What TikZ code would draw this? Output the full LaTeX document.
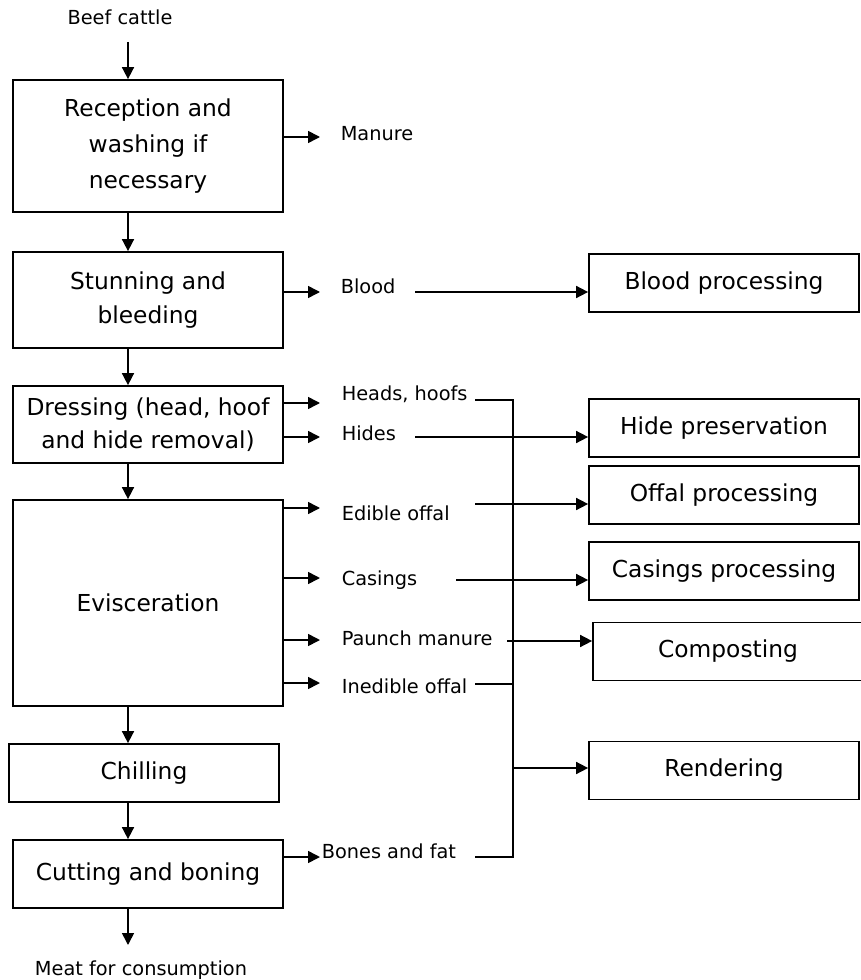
\documentclass[tikz,border=0pt]{standalone}
\usepackage{fontspec}
\setmainfont{DejaVu Sans}
\usepackage{tikz}
\usetikzlibrary{arrows.meta}
\tikzset{proc/.style={rectangle,draw,line width=1.3pt,align=center,inner sep=0pt,minimum width=202.5pt,font=\fontsize{17.5}{25}\selectfont}}
\tikzset{side/.style={proc,minimum height=43.5pt}}
\tikzset{lbl/.style={anchor=base west,inner sep=0pt,font=\fontsize{14.5}{17}\selectfont}}

\begin{document}
\begin{tikzpicture}[x=0.75pt,y=-0.75pt,>={Triangle[length=9pt,width=9pt]},line width=1.2pt]
        \useasboundingbox (0,0) rectangle (860,980);

        % main line
        \node[proc,minimum height=99pt,font=\fontsize{17.5}{27}\selectfont] (rec) at (148,146) {Reception and\\washing if\\necessary};
        \node[proc,minimum height=72pt] (stun) at (148,300) {Stunning and\\bleeding};
        \node[proc,minimum height=57.75pt] (dress) at (148,424.5) {Dressing (head, hoof\\and hide removal)};
        \node[proc,minimum height=154.5pt] (evis) at (148,603) {Evisceration};
        \node[proc,minimum height=43.5pt] (chill) at (144,773) {Chilling};
        \node[proc,minimum height=51pt] (cut) at (148,874) {Cutting and boning};

        % by-product processing
        \node[side] (bproc) at (724,283) {Blood processing};
        \node[side] (hide) at (724,428) {Hide preservation};
        \node[side] (offal) at (724,495) {Offal processing};
        \node[side] (casing) at (724,571) {Casings processing};
        \node[side] (comp) at (728,651.5) {Composting};
        \node[side] (rend) at (724,770.5) {Rendering};

        % flow labels
        \node[lbl,anchor=base] (beef) at (120,25) {Beef cattle};
        \node[lbl,anchor=base] (meat) at (141,975) {Meat for consumption};
        \node[lbl] (manure) at (340,141) {Manure};
        \node[lbl] (blood) at (340,293) {Blood};
        \node[lbl] (heads) at (341,400) {Heads, hoofs};
        \node[lbl] (hides) at (341,440) {Hides};
        \node[lbl] (edible) at (341,520) {Edible offal};
        \node[lbl] (casings) at (341,585) {Casings};
        \node[lbl] (paunch) at (341,645) {Paunch manure};
        \node[lbl] (inedible) at (341,693) {Inedible offal};
        \node[lbl] (bones) at (321,858) {Bones and fat};

        \coordinate (col) at (128,0);
        \coordinate (beefE) at (128,42);
        \coordinate (meatE) at (128,945);
        \coordinate (bus) at (513,0);

        \draw [->] (beefE) to (rec.north -| col);
        \draw [->] (rec.south -| col) to (stun.north -| col);
        \draw [->] (stun.south -| col) to (dress.north -| col);
        \draw [->] (dress.south -| col) to (evis.north -| col);
        \draw [->] (evis.south -| col) to (chill.north -| col);
        \draw [->] (chill.south -| col) to (cut.north -| col);
        \draw [->] (cut.south -| col) to (meatE);

        % side streams
        \coordinate (manA) at (320,137);
        \coordinate (bloodA) at (320,292);
        \coordinate (headA) at (320,403);
        \coordinate (hideA) at (320,437);
        \coordinate (edA) at (320,508);
        \coordinate (casA) at (320,578);
        \coordinate (pauA) at (320,640);
        \coordinate (inA) at (320,683);
        \coordinate (boneA) at (320,857);
        \draw [->] (rec.east |- manA) to (manA);
        \draw [->] (stun.east |- bloodA) to (bloodA);
        \draw [->] (dress.east |- headA) to (headA);
        \draw [->] (dress.east |- hideA) to (hideA);
        \draw [->] (evis.east |- edA) to (edA);
        \draw [->] (evis.east |- casA) to (casA);
        \draw [->] (evis.east |- pauA) to (pauA);
        \draw [->] (evis.east |- inA) to (inA);
        \draw [->] (cut.east |- boneA) to (boneA);

        \coordinate (bloodS) at (415,292);
        \coordinate (hideS) at (415,437);
        \coordinate (edS) at (475,504);
        \coordinate (casS) at (456,580);
        \coordinate (pauS) at (507,641);
        \coordinate (headS) at (475,400);
        \coordinate (inS) at (475,684);
        \coordinate (boneS) at (475,857);
        \coordinate (rendS) at (513,768);
        \draw [->] (bloodS) to (bproc.west |- bloodS);
        \draw [->] (hideS) to (hide.west |- hideS);
        \draw [->] (edS) to (offal.west |- edS);
        \draw [->] (casS) to (casing.west |- casS);
        \draw [->] (pauS) to (comp.west |- pauS);
        \draw (headS) -- (headS -| bus) -- (boneS -| bus) -- (boneS);
        \draw (inS) -- (inS -| bus);
        \draw [->] (rendS) to (rend.west |- rendS);
\end{tikzpicture}
\end{document}
